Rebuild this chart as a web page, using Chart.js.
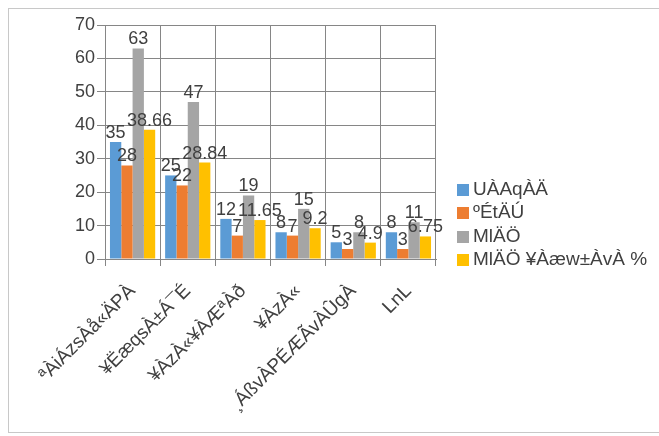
<!DOCTYPE html>
<html>
<head>
<meta charset="utf-8">
<script src="https://cdn.jsdelivr.net/npm/chart.js@4"></script>
<style>
  html, body { margin: 0; padding: 0; background: #fff; }
  body { width: 659px; height: 436px; position: relative; overflow: hidden; font-family: "Liberation Sans", Arial, sans-serif; }
  #frame { position: absolute; left: 8px; top: 8px; right: -4px; bottom: 3px; border: 1px solid #c8c8c8; }
  #wrap { position: absolute; left: 0; top: 0; width: 659px; height: 436px; }
  #legend { position: absolute; left: 457px; top: 177px; }
  #legend div { height: 23.4px; line-height: 23.4px; font-size: 19px; color: #404040; white-space: nowrap; }
  #legend span { display: inline-block; width: 12px; height: 12px; margin-right: 4px; vertical-align: -1px; }
</style>
</head>
<body>
<div id="frame"></div>
<div id="wrap"><canvas id="chart" width="659" height="436"></canvas></div>
<div id="legend"></div>
<script>
const categories = ['ªÀiÁzsÀå«ÄPÀ', '¥ËæqsÀ±Á¯É', '¥ÀzÀ«¥ÀÆªÀð', '¥ÀzÀ«', '¸ÁßvÀPÉÆÃvÀÛgÀ', 'LnL'];
const seriesNames = ['UÀAqÀÄ', 'ºÉtÄÚ', 'MlÄÖ', 'MlÄÖ ¥Àæw±ÀvÀ %'];
const male = [35, 25, 12, 8, 5, 8];
const female = [28, 22, 7, 7, 3, 3];
const total = [63, 47, 19, 15, 8, 11];
const totalPercent = [38.66, 28.84, 11.65, 9.2, 4.9, 6.75];
const yTicks = [0, 10, 20, 30, 40, 50, 60, 70];

const colors = ['#5B9BD5', '#ED7D31', '#A5A5A5', '#FFC000'];
const textColor = '#404040';
const fontFamily = '"Liberation Sans", Arial, sans-serif';

// value labels on top of each bar
const barLabels = {
    id: 'barLabels',
    afterDatasetsDraw(chart) {
        const ctx = chart.ctx;
        ctx.save();
        ctx.fillStyle = textColor;
        ctx.font = '18px ' + fontFamily;
        ctx.textAlign = 'center';
        ctx.textBaseline = 'bottom';
        chart.data.datasets.forEach((ds, i) => {
            const meta = chart.getDatasetMeta(i);
            meta.data.forEach((bar, j) => {
                ctx.fillText(String(ds.data[j]), bar.x, bar.y);
            });
        });
        ctx.restore();
    }
};

const datasets = [male, female, total, totalPercent].map((values, i) => ({
    label: seriesNames[i],
    data: values,
    backgroundColor: colors[i],
    barPercentage: 1.0,
    categoryPercentage: 0.82
}));

const chart = new Chart(document.getElementById('chart'), {
    type: 'bar',
    data: {
        labels: categories,
        datasets: datasets
    },
    options: {
        responsive: false,
        animation: false,
        devicePixelRatio: 1,
        layout: {
            padding: { left: 10, top: 25, right: 223, bottom: 6 }
        },
        plugins: {
            legend: { display: false },
            tooltip: { enabled: false }
        },
        scales: {
            x: {
                grid: {
                    color: '#868686',
                    offset: true,
                    tickLength: 7
                },
                border: { color: '#868686' },
                ticks: {
                    color: textColor,
                    font: { size: 19, family: fontFamily },
                    minRotation: 45,
                    maxRotation: 45,
                    padding: 14
                },
                afterFit(scale) { scale.height = 171; }
            },
            y: {
                min: 0,
                max: 70,
                afterBuildTicks(scale) {
                    scale.ticks = yTicks.map(v => ({ value: v }));
                },
                grid: {
                    color: '#868686',
                    tickLength: 8
                },
                border: { color: '#868686' },
                ticks: {
                    color: textColor,
                    font: { size: 18, family: fontFamily },
                    padding: 2
                },
                afterFit(scale) { scale.width = 95; }
            }
        }
    },
    plugins: [barLabels]
});

// legend built from the chart's datasets
const legend = document.getElementById('legend');
chart.data.datasets.forEach(ds => {
    const row = document.createElement('div');
    const box = document.createElement('span');
    box.style.background = ds.backgroundColor;
    row.appendChild(box);
    row.appendChild(document.createTextNode(ds.label));
    legend.appendChild(row);
});
</script>
</body>
</html>
